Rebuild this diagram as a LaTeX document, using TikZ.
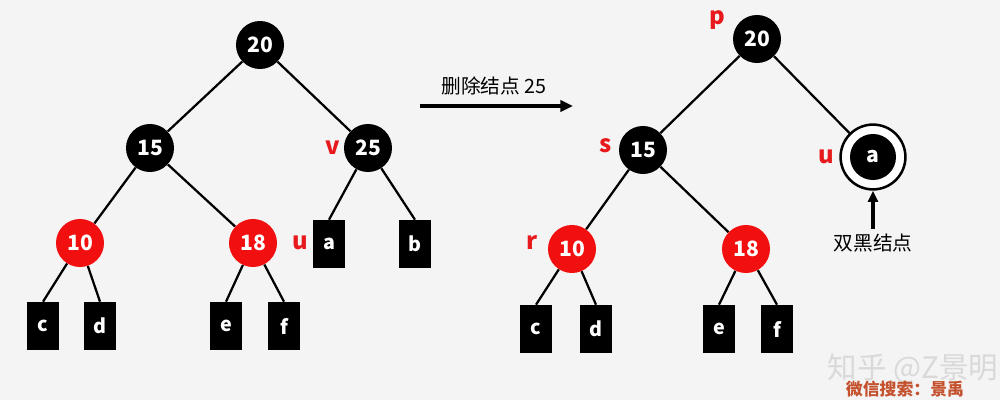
\documentclass[tikz,border=0pt]{standalone}
\usepackage{fontspec}
\setmainfont{Noto Sans CJK SC}
\usepackage{xcolor}
\usepackage{tikz}
\usetikzlibrary{shapes,arrows,arrows.meta,positioning}
\definecolor{bgray}{HTML}{F4F4F4}
\definecolor{rbred}{HTML}{F20F0F}
\definecolor{lblred}{HTML}{E8191C}
\definecolor{wmbrown}{HTML}{C4522E}
\tikzstyle{line} = [draw, line width=1.6pt]
\tikzset{
    blacknode/.style={circle, fill=black, text=white, minimum size=1.2cm, inner sep=0pt, font=\bfseries\fontsize{15}{17}\selectfont},
    rednode/.style={blacknode, fill=rbred},
    leaf/.style={rectangle, fill=black, text=white, minimum width=0.78cm, minimum height=1.2cm, inner sep=0pt, font=\bfseries\fontsize{14}{16}\selectfont},
    tag/.style={text=lblred, font=\bfseries\fontsize{17}{19}\selectfont}
}
\begin{document}
\begin{tikzpicture}[x=0.025cm,y=-0.025cm]
    % Background
    \fill[bgray] (0,0) rectangle (1000,400);
    \useasboundingbox (0,0) rectangle (1000,400);

    % Left tree
    \node[blacknode] (l20) at (260,45) {20};
    \node[blacknode] (l15) at (150,148) {15};
    \node[blacknode] (l25) at (368,148) {25};
    \node[rednode] (l10) at (80,243) {10};
    \node[rednode] (l18) at (253,243) {18};
    \node[leaf] (la) at (329,244) {a};
    \node[leaf] (lb) at (415,244) {b};
    \node[leaf] (lc) at (43,326) {c};
    \node[leaf] (ld) at (100,326) {d};
    \node[leaf] (le) at (226,326) {e};
    \node[leaf] (lf) at (284,326) {f};
    \node[tag] (lv) at (333,148) {v};
    \node[tag] (lu) at (300,243) {u};

    \path[line] (l20) -- (l15);
    \path[line] (l20) -- (l25);
    \path[line] (l15) -- (l10);
    \path[line] (l15) -- (l18);
    \path[line] (l25) -- (la.north);
    \path[line] (l25) -- (lb.north);
    \path[line] (l10) -- (lc.north);
    \path[line] (l10) -- (ld.north);
    \path[line] (l18) -- (le.north);
    \path[line] (l18) -- (lf.north);

    % Middle arrow
    \coordinate (ms) at (420,106);
    \coordinate (me) at (573,106);
    \draw[line width=2.2pt, -{Triangle[length=9pt,width=8pt]}] (ms) -- (me);
    \node[font=\fontsize{14}{16}\selectfont] (step) at (494,86) {删除结点 25};

    % Right tree
    \node[blacknode] (r20) at (757,39) {20};
    \node[blacknode] (r15) at (643,150) {15};
    \node[circle, draw, line width=1.8pt, fill=white, minimum size=1.62cm] (rring) at (873,157) {};
    \node[blacknode, minimum size=1.15cm] (ra) at (rring) {a};
    \node[rednode] (r10) at (572,249) {10};
    \node[rednode] (r18) at (746,249) {18};
    \node[leaf] (rc) at (536,329) {c};
    \node[leaf] (rd) at (596,329) {d};
    \node[leaf] (re) at (719,329) {e};
    \node[leaf] (rf) at (777,329) {f};
    \node[tag] (rp) at (717,20) {p};
    \node[tag] (rs) at (606,146) {s};
    \node[tag] (rr) at (532,243) {r};
    \node[tag] (ru) at (826,157) {u};

    \path[line] (r20) -- (r15);
    \path[line] (r20) -- (rring);
    \path[line] (r15) -- (r10);
    \path[line] (r15) -- (r18);
    \path[line] (r10) -- (rc.north);
    \path[line] (r10) -- (rd.north);
    \path[line] (r18) -- (re.north);
    \path[line] (r18) -- (rf.north);

    % Double black label
    \node[font=\fontsize{14}{16}\selectfont] (dbl) at (873,243) {双黑结点};
    \coordinate (db) at (873,229);
    \draw[line width=2.2pt, -{Triangle[length=8pt,width=7pt]}] (db) -- (rring.south);

    % Watermark
    \node[anchor=west, text=black!15, font=\fontsize{21}{23}\selectfont] (wm1) at (823,369) {知乎 @Z景明};
    \node[text=wmbrown, font=\bfseries\fontsize{12}{14}\selectfont] (wm2) at (905,389) {微信搜索：景禹};
\end{tikzpicture}
\end{document}
